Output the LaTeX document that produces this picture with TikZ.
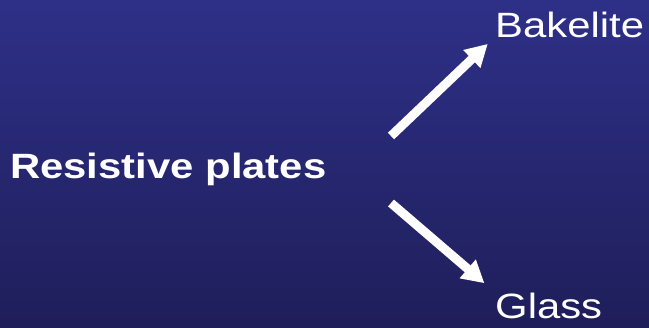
\documentclass[tikz,border=0pt]{standalone}
\usepackage{fontspec}
\setmainfont{Liberation Sans}
\usepackage{xcolor}
\usetikzlibrary{arrows.meta,positioning}
\definecolor{slidetop}{HTML}{2E3088}
\definecolor{slidebot}{HTML}{1F1E5A}
\newcommand{\wide}[1]{\scalebox{1.19}[1]{#1}}
\tikzset{
  slidetext/.style={
    text=white, inner sep=0pt, anchor=base west,
    font=\fontsize{30}{36}\selectfont
  },
  forkarrow/.style={
    -{Triangle[length=0.66cm, width=0.7cm]}, draw=white, line width=0.27cm
  },
}

\begin{document}
\begin{tikzpicture}[x=0.03cm, y=-0.03cm]
  % background
  \shade[top color=slidetop, bottom color=slidebot] (0,0) rectangle (649,327);

  % labels
  \node[slidetext, font=\fontsize{30}{36}\selectfont\bfseries] (plates) at (10,178) {\wide{Resistive plates}};
  \node[slidetext] (bake) at (495,37) {\wide{Bakelite}};
  \node[slidetext] (glass) at (495,318) {\wide{Glass}};

  % arrows
  \coordinate (forkup) at (391,136);
  \coordinate (forkdown) at (391,203);
  \draw[forkarrow, shorten >=0.3cm] (forkup) -- (bake.base west);
  \draw[forkarrow, shorten >=0.42cm] (forkdown) -- (glass.north west);
\end{tikzpicture}
\end{document}
